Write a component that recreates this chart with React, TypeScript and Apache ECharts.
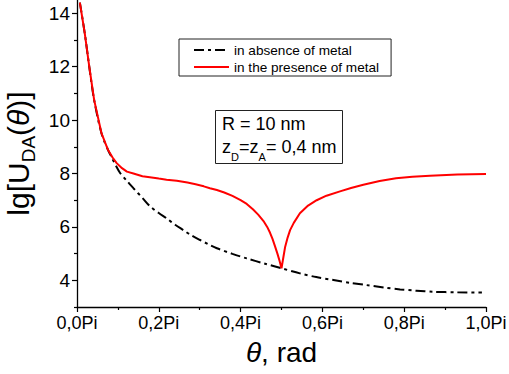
import React, { useEffect, useRef } from "react";
import * as echarts from "echarts";

// theta / Pi
const absenceX = [0.007, 0.019, 0.03, 0.042, 0.06, 0.076, 0.085, 0.095, 0.105, 0.12, 0.138, 0.162, 0.178, 0.2, 0.219, 0.24, 0.26, 0.28, 0.301, 0.32, 0.342, 0.38, 0.415, 0.46, 0.5, 0.545, 0.585, 0.627, 0.67, 0.708, 0.75, 0.79, 0.83, 0.871, 0.93, 0.99];
const absenceY = [14.4, 13.25, 12.0, 10.75, 9.5, 8.88, 8.6, 8.3, 8.03, 7.76, 7.45, 7.05, 6.78, 6.52, 6.32, 6.08, 5.88, 5.68, 5.51, 5.36, 5.2, 4.99, 4.82, 4.62, 4.45, 4.26, 4.12, 4.01, 3.9, 3.82, 3.73, 3.66, 3.61, 3.57, 3.55, 3.54];

const presenceX = [0.007, 0.019, 0.03, 0.042, 0.06, 0.076, 0.087, 0.097, 0.11, 0.122, 0.138, 0.16, 0.178, 0.2, 0.219, 0.244, 0.27, 0.29, 0.31, 0.325, 0.342, 0.36, 0.38, 0.4, 0.415, 0.43, 0.443, 0.456, 0.465, 0.472, 0.478, 0.484, 0.49, 0.495, 0.5, 0.505, 0.509, 0.515, 0.521, 0.53, 0.545, 0.565, 0.586, 0.61, 0.643, 0.67, 0.7, 0.74, 0.78, 0.82, 0.863, 0.93, 1.0];
const presenceY = [14.4, 13.25, 12.0, 10.75, 9.5, 8.88, 8.6, 8.39, 8.2, 8.07, 8.0, 7.9, 7.86, 7.81, 7.77, 7.73, 7.66, 7.6, 7.52, 7.45, 7.38, 7.29, 7.16, 7.0, 6.86, 6.66, 6.46, 6.22, 6.0, 5.78, 5.55, 5.28, 5.0, 4.74, 4.45, 4.9, 5.26, 5.6, 5.88, 6.15, 6.51, 6.8, 7.0, 7.17, 7.33, 7.46, 7.58, 7.72, 7.82, 7.88, 7.92, 7.96, 7.98];

const xMajorTicks = [0, 0.2, 0.4, 0.6, 0.8, 1.0];
const xMinorTicks = [0.1, 0.3, 0.5, 0.7, 0.9];
const yMajorTicks = [4, 6, 8, 10, 12, 14];
const yMinorTicks = [3, 5, 7, 9, 11, 13];
const seriesNames = ["in absence of metal", "in the presence of metal"];

const FONT = "'Liberation Sans', Arial, Helvetica, sans-serif";

export default function App() {
  const ref = useRef<HTMLDivElement>(null);
  useEffect(() => {
    if (!ref.current) return;
    const chart = echarts.init(ref.current, null, { renderer: "svg" });
    const zip = (xs: number[], ys: number[]) => xs.map((x, i) => [x, ys[i]]);
    const axisLineStyle = { color: "#000", width: 1.3 };
    chart.setOption({
      animation: false,
      textStyle: { fontFamily: FONT, color: "#000" },
      grid: { left: 77, right: 23, top: 0, bottom: 67, containLabel: false, outerBoundsMode: "none" },
      legend: {
        left: 179,
        top: 39,
        orient: "vertical",
        data: seriesNames,
        itemWidth: 35,
        itemHeight: 14,
        itemGap: 3,
        padding: [4, 12, 2, 14],
        borderColor: "#222",
        borderWidth: 1,
        itemStyle: { color: "rgba(0,0,0,0)", borderWidth: 0, opacity: 0 },
        textStyle: { fontSize: 13.6, color: "#000", fontFamily: FONT },
        selectedMode: false,
      },
      xAxis: [
        {
          type: "value",
          min: 0,
          max: 1,
          position: "bottom",
          splitLine: { show: false },
          axisLine: { onZero: false, lineStyle: axisLineStyle },
          axisTick: { customValues: xMajorTicks, length: 5, lineStyle: { color: "#000", width: 1.2 } },
          axisLabel: {
            customValues: xMajorTicks,
            showMinLabel: true,
            showMaxLabel: true,
            fontSize: 18,
            color: "#000",
            margin: 7,
            fontFamily: FONT,
            formatter: (v: number) => v.toFixed(1).replace(".", ",") + "Pi",
          },
          name: "{i|θ}, rad",
          nameLocation: "middle",
          nameGap: 31,
          nameTextStyle: {
            fontSize: 28,
            color: "#000",
            fontFamily: FONT,
            rich: {
              i: { fontSize: 28, fontStyle: "italic", fontFamily: FONT, color: "#000" },
            },
          },
        },
        {
          type: "value",
          min: 0,
          max: 1,
          position: "bottom",
          splitLine: { show: false },
          axisLine: { show: false, onZero: false },
          axisTick: { customValues: xMinorTicks, length: 3, lineStyle: { color: "#000", width: 1.2 } },
          axisLabel: { show: false },
        },
      ],
      yAxis: [
        {
          type: "value",
          min: 3,
          max: 14.5,
          position: "left",
          splitLine: { show: false },
          axisLine: { show: true, onZero: false, lineStyle: axisLineStyle },
          axisTick: { customValues: yMajorTicks, length: 5, lineStyle: { color: "#000", width: 1.2 } },
          axisLabel: {
            customValues: yMajorTicks,
            fontSize: 19,
            color: "#000",
            margin: 7,
            fontFamily: FONT,
            formatter: (v: number) => String(v),
          },
          name: "{a|lg[U}{s|DA}{a|(}{i|θ}{a|)]}",
          nameLocation: "middle",
          nameRotate: 90,
          nameGap: 38,
          nameTextStyle: {
            fontSize: 30,
            color: "#000",
            fontFamily: FONT,
            rich: {
              a: { fontSize: 30, lineHeight: 38, fontFamily: FONT, color: "#000" },
              s: { fontSize: 19, lineHeight: 19, verticalAlign: "bottom", fontFamily: FONT, color: "#000" },
              i: { fontSize: 30, lineHeight: 38, fontStyle: "italic", fontFamily: FONT, color: "#000" },
            },
          },
        },
        {
          type: "value",
          min: 3,
          max: 14.5,
          position: "left",
          splitLine: { show: false },
          axisLine: { show: false, onZero: false },
          axisTick: { customValues: yMinorTicks, length: 3, lineStyle: { color: "#000", width: 1.2 } },
          axisLabel: { show: false },
        },
      ],
      series: [
        {
          name: seriesNames[0],
          type: "line",
          xAxisIndex: 0,
          yAxisIndex: 0,
          data: zip(absenceX, absenceY),
          symbol: "none",
          showSymbol: false,
          smooth: 0.3,
          color: "#000",
          lineStyle: { color: "#000", width: 2, type: [10, 4, 3, 4] },
          silent: true,
        },
        {
          name: seriesNames[1],
          type: "line",
          xAxisIndex: 0,
          yAxisIndex: 0,
          data: zip(presenceX, presenceY),
          symbol: "none",
          showSymbol: false,
          smooth: false,
          color: "#ff0000",
          lineStyle: { color: "#ff0000", width: 2 },
          silent: true,
        },
      ],
      graphic: [
        {
          type: "rect",
          shape: { x: 215.5, y: 110.5, width: 127, height: 53 },
          style: { fill: "none", stroke: "#222", lineWidth: 1 },
          silent: true,
        },
        { type: "text", x: 222, y: 124, style: { text: "R = 10 nm", fontSize: 18, fontFamily: FONT, fill: "#000", verticalAlign: "middle" } },
        { type: "text", x: 222, y: 147, style: { text: "z", fontSize: 18, fontFamily: FONT, fill: "#000", verticalAlign: "middle" } },
        { type: "text", x: 231, y: 156.5, style: { text: "D", fontSize: 11, fontFamily: FONT, fill: "#000", verticalAlign: "middle" } },
        { type: "text", x: 239, y: 147, style: { text: "=z", fontSize: 18, fontFamily: FONT, fill: "#000", verticalAlign: "middle" } },
        { type: "text", x: 258.5, y: 156.5, style: { text: "A", fontSize: 11, fontFamily: FONT, fill: "#000", verticalAlign: "middle" } },
        { type: "text", x: 266, y: 147, style: { text: "= 0,4 nm", fontSize: 18, fontFamily: FONT, fill: "#000", verticalAlign: "middle" } },
      ],
    });
    return () => chart.dispose();
  }, []);
  return <div ref={ref} style={{ position: "absolute", left: 0, top: 0, width: 509, height: 374 }} />;
}
